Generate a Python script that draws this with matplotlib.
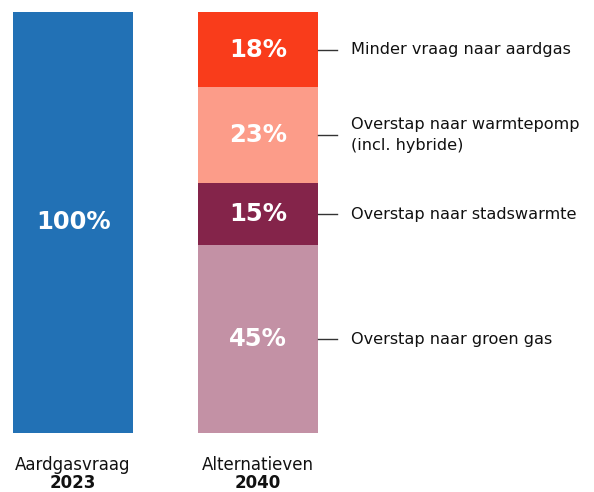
import matplotlib
matplotlib.use('Agg')
import matplotlib.pyplot as plt
import numpy as np

plt.rcParams['font.family'] = ['DejaVu Sans']

# Data
bar_names = ['Aardgasvraag', 'Alternatieven']
bar_years = ['2023', '2040']
base_value = [100]
alt_values = [45, 15, 23, 18]  # bottom to top
alt_labels = ['Overstap naar groen gas',
              'Overstap naar stadswarmte',
              'Overstap naar warmtepomp\n(incl. hybride)',
              'Minder vraag naar aardgas']
alt_colors = ['#c391a5', '#84244a', '#fc9c89', '#f93c1b']
base_color = '#2271b5'

fig = plt.figure(figsize=(5.94, 4.92), dpi=100)
ax = fig.add_axes([0, 0.1205, 1, 0.855])

width = 0.65
x = np.arange(len(bar_names))

# Left bar: 100%
ax.bar(x[0], base_value[0], width=width, color=base_color)
ax.text(x[0], base_value[0] / 2, f'{base_value[0]}%', ha='center', va='center',
        color='white', fontsize=17.5, fontweight='bold')

# Right bar: stacked shares, scaled to full height
total = sum(alt_values)
bottom = 0
for val, lab, col in zip(alt_values, alt_labels, alt_colors):
    h = val / total * 100
    ax.bar(x[1], h, width=width, bottom=bottom, color=col)
    mid = bottom + h / 2
    ax.text(x[1], mid, f'{val}%', ha='center', va='center',
            color='white', fontsize=17.5, fontweight='bold')
    ax.plot([x[1] + width / 2, x[1] + width / 2 + 0.1], [mid, mid],
            color='#333333', lw=1)
    ax.text(x[1] + width / 2 + 0.178, mid, lab, ha='left', va='center',
            color='#111111', fontsize=11.6, linespacing=1.45)
    bottom += h

# Category labels under the bars
for xi, name, yr in zip(x, bar_names, bar_years):
    ax.text(xi, -7.6, name, ha='center', va='center', fontsize=12, color='#111111')
    ax.text(xi, -12.0, yr, ha='center', va='center', fontsize=12,
            fontweight='bold', color='#111111')

ax.set_xlim(-0.395, 2.816)
ax.set_ylim(0, 100)
ax.axis('off')

plt.savefig('out.png', dpi=100, facecolor='white')
plt.close()
